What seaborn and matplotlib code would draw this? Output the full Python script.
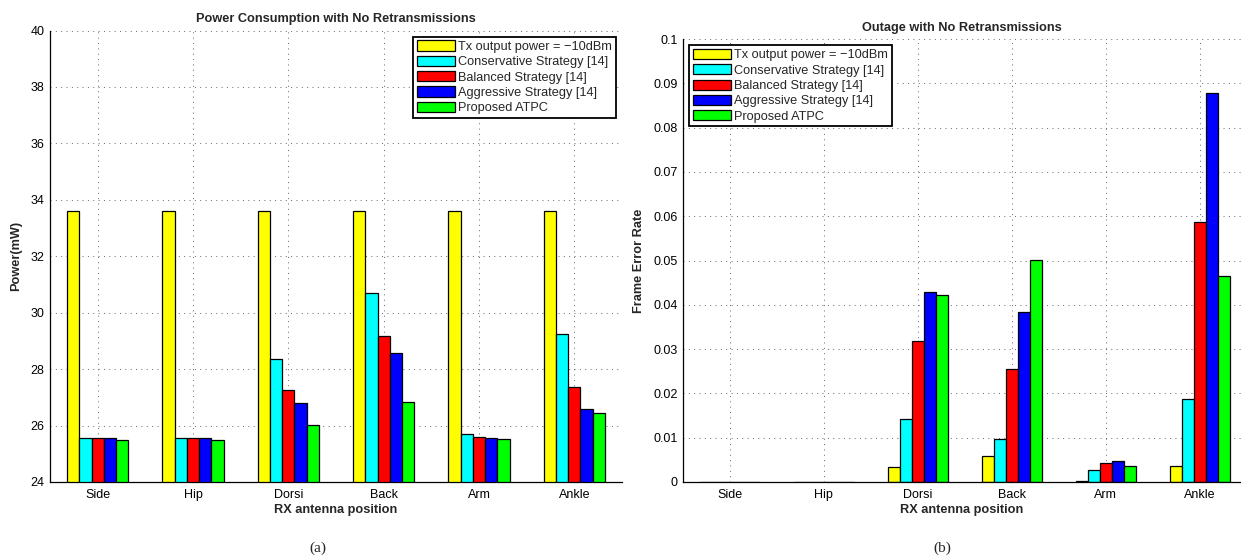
import numpy as np
import pandas as pd
import matplotlib
matplotlib.use("Agg")
import matplotlib.pyplot as plt
import seaborn as sns

positions = ["Side", "Hip", "Dorsi", "Back", "Arm", "Ankle"]
series = ["Tx output power = \u221210dBm", "Conservative Strategy [14]",
          "Balanced Strategy [14]", "Aggressive Strategy [14]", "Proposed ATPC"]
colors = ["#FFFF00", "#00FFFF", "#FF0000", "#0000FF", "#00FF00"]

power_tx = [33.6, 33.6, 33.6, 33.6, 33.6, 33.6]
power_cons = [25.57, 25.57, 28.35, 30.69, 25.69, 29.26]
power_bal = [25.57, 25.57, 27.25, 29.18, 25.59, 27.38]
power_aggr = [25.57, 25.57, 26.81, 28.58, 25.57, 26.60]
power_atpc = [25.49, 25.49, 26.02, 26.83, 25.51, 26.46]

fer_tx = [0.0, 0.0, 0.0033, 0.0059, 0.0002, 0.0036]
fer_cons = [0.0, 0.0, 0.0143, 0.0097, 0.0028, 0.0187]
fer_bal = [0.0, 0.0, 0.0318, 0.0254, 0.0044, 0.0586]
fer_aggr = [0.0, 0.0, 0.0430, 0.0383, 0.0047, 0.0877]
fer_atpc = [0.0, 0.0, 0.0421, 0.0502, 0.0036, 0.0464]

power_ticks = [24, 26, 28, 30, 32, 34, 36, 38, 40]
power_ticklabels = ["24", "26", "28", "30", "32", "34", "36", "38", "40"]
fer_ticks = [0, 0.01, 0.02, 0.03, 0.04, 0.05, 0.06, 0.07, 0.08, 0.09, 0.1]
fer_ticklabels = ["0", "0.01", "0.02", "0.03", "0.04", "0.05", "0.06",
                  "0.07", "0.08", "0.09", "0.1"]


def long_df(arrays):
    rows = []
    for s, arr in zip(series, arrays):
        for p, v in zip(positions, arr):
            rows.append({"pos": p, "series": s, "val": v})
    return pd.DataFrame(rows)


sns.set_style("white")
plt.rcParams["font.family"] = ["Liberation Sans", "DejaVu Sans"]

fig = plt.figure(figsize=(12.41, 5.58), dpi=100)
ax1 = fig.add_axes([50 / 1241, 1 - 482 / 558, 572 / 1241, (482 - 30.5) / 558])
ax2 = fig.add_axes([683 / 1241, 1 - 482 / 558, 558 / 1241, (482 - 39) / 558])

df1 = long_df([power_tx, power_cons, power_bal, power_aggr, power_atpc])
df2 = long_df([fer_tx, fer_cons, fer_bal, fer_aggr, fer_atpc])

for ax, df, ticks, tlabels, ylim, xlim, title, ylabel, legloc in [
    (ax1, df1, power_ticks, power_ticklabels, (24, 40), (-0.5, 5.5),
     "Power Consumption with No Retransmissions", "Power(mW)", "upper right"),
    (ax2, df2, fer_ticks, fer_ticklabels, (0, 0.1), (-0.5, 5.44),
     "Outage with No Retransmissions", "Frame Error Rate", "upper left"),
]:
    sns.barplot(data=df, x="pos", y="val", hue="series", palette=colors,
                width=0.64, edgecolor="black", linewidth=0.9, saturation=1,
                errorbar=None, ax=ax)
    ax.set_ylim(*ylim)
    ax.set_xlim(*xlim)
    ax.set_yticks(ticks)
    ax.set_yticklabels(tlabels)
    ax.set_axisbelow(True)
    ax.grid(True, axis="both", linestyle=(0, (1, 4.5)), color="#666666", linewidth=0.7)
    for sp in ["top", "right"]:
        ax.spines[sp].set_visible(False)
    for sp in ["left", "bottom"]:
        ax.spines[sp].set_color("black")
        ax.spines[sp].set_linewidth(0.9)
    ax.tick_params(axis="both", direction="in", length=4, width=0.8,
                   labelsize=9, colors="black", pad=4)
    ax.tick_params(axis="x", length=0, pad=5)
    ax.set_title(title, fontsize=9.2, fontweight="bold", pad=6)
    ax.set_xlabel("RX antenna position", fontsize=9.2, fontweight="bold", labelpad=2)
    ax.set_ylabel(ylabel, fontsize=9.2, fontweight="bold", labelpad=6)
    handles, labels = ax.get_legend_handles_labels()
    leg = ax.legend(handles, labels, loc=legloc, fontsize=9.2, frameon=True,
                    fancybox=False, shadow=False, framealpha=1,
                    edgecolor="black", handlelength=3.0, handleheight=0.85,
                    handletextpad=0.25, labelspacing=0.22, borderpad=0.28,
                    borderaxespad=0.5)
    leg.get_frame().set_linewidth(1.3)

fig.text(318 / 1241, 1 - 548 / 558, "(a)", ha="center", va="center",
         fontsize=11, family="Liberation Serif")
fig.text(942 / 1241, 1 - 548 / 558, "(b)", ha="center", va="center",
         fontsize=11, family="Liberation Serif")

fig.savefig("out.png", dpi=100)
